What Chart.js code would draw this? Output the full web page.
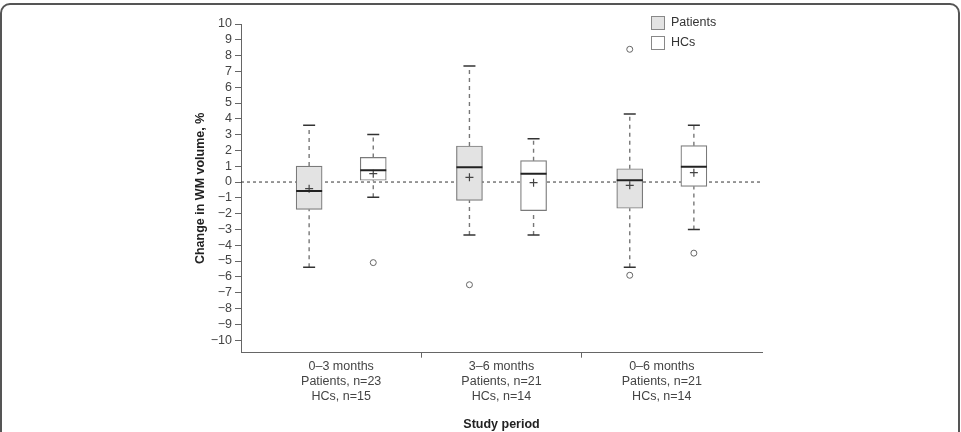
<!DOCTYPE html>
<html>
<head>
<meta charset="utf-8">
<script src="https://cdn.jsdelivr.net/npm/chart.js@4/dist/chart.umd.min.js"></script>
<style>
  html, body { margin: 0; padding: 0; background: #fff; }
  #wrap { position: relative; width: 961px; height: 432px; overflow: hidden; }
  #frame { position: absolute; left: 0; top: 3px; width: 956px; height: 460px;
           border: 2px solid #555; border-radius: 10px; pointer-events: none; }
</style>
</head>
<body>
<div id="wrap">
  <canvas id="myChart" width="961" height="432"></canvas>
  <div id="frame"></div>
</div>
<script>
// study periods (x axis groups)
const categories = [
  ['0–3 months', 'Patients, n=23', 'HCs, n=15'],
  ['3–6 months', 'Patients, n=21', 'HCs, n=14'],
  ['0–6 months', 'Patients, n=21', 'HCs, n=14']
];
const seriesNames = ['Patients', 'HCs'];

// patients: box plot values per period
const patientMin = [-5.4, -3.35, -5.4];
const patientQ1 = [-1.73, -1.16, -1.66];
const patientMedian = [-0.57, 0.93, 0.11];
const patientQ3 = [1.01, 2.28, 0.84];
const patientMax = [3.6, 7.35, 4.3];
const patientMean = [-0.42, 0.3, -0.21];
const patientOutliers = [[], [-6.5], [8.4, -5.9]];

// healthy controls
const hcMin = [-0.97, -3.35, -3.0];
const hcQ1 = [0.11, -1.81, -0.27];
const hcMedian = [0.74, 0.53, 0.97];
const hcQ3 = [1.56, 1.35, 2.3];
const hcMax = [3.0, 2.74, 3.6];
const hcMean = [0.53, -0.04, 0.59];
const hcOutliers = [[-5.1], [], [-4.5]];

const yTickValues = [-10, -9, -8, -7, -6, -5, -4, -3, -2, -1, 0, 1, 2, 3, 4, 5, 6, 7, 8, 9, 10];

window.onload = () => {
  const FONT = '"Liberation Sans", Arial, Helvetica, sans-serif';
  const patientPos = i => i + 0.3;
  const hcPos = i => i + 0.7;

  const boxData = (pos, q1, q3) => q1.map((v, i) => ({ x: pos(i), y: [v, q3[i]] }));
  const pointData = (pos, arr) => arr.map((v, i) => ({ x: pos(i), y: v }));
  const capData = (pos, lo, hi) => {
    const pts = [];
    lo.forEach((v, i) => { pts.push({ x: pos(i), y: v }); pts.push({ x: pos(i), y: hi[i] }); });
    return pts;
  };
  const whiskerData = (pos, min, q1, q3, max) => {
    const pts = [];
    min.forEach((v, i) => {
      pts.push({ x: pos(i), y: q3[i] }, { x: pos(i), y: max[i] }, { x: pos(i), y: null });
      pts.push({ x: pos(i), y: v }, { x: pos(i), y: q1[i] }, { x: pos(i), y: null });
    });
    return pts;
  };
  const outlierData = (pos, arr) => {
    const pts = [];
    arr.forEach((list, i) => list.forEach(v => pts.push({ x: pos(i), y: v })));
    return pts;
  };

  const pointSet = (data, style, radius, width, color, bg) => ({
    type: 'line', data, showLine: false, order: 1,
    pointStyle: style, pointRadius: radius, pointBorderWidth: width,
    pointBorderColor: color, pointBackgroundColor: bg || color, pointHoverRadius: radius
  });

  const boxSet = (label, data, bg) => ({
    type: 'bar', label, data, grouped: false, order: 3,
    backgroundColor: bg, borderColor: '#7a7a7a', borderWidth: 1.2,
    borderSkipped: false, barThickness: 26
  });

  const whiskerSet = data => ({
    type: 'line', data, order: 5, borderColor: '#777', borderWidth: 1.4,
    borderDash: [4, 4], pointRadius: 0, spanGaps: false
  });

  const legendPlugin = {
    id: 'boxLegend',
    afterDraw(chart) {
      const ctx = chart.ctx;
      const items = [chart.data.datasets[0], chart.data.datasets[1]];
      ctx.save();
      items.forEach((ds, i) => {
        const y = 16 + i * 20;
        ctx.fillStyle = ds.backgroundColor;
        ctx.fillRect(651, y, 13, 13);
        ctx.strokeStyle = '#888';
        ctx.lineWidth = 1;
        ctx.strokeRect(651.5, y + 0.5, 13, 13);
        ctx.fillStyle = '#333';
        ctx.font = '12.5px ' + FONT;
        ctx.textBaseline = 'middle';
        ctx.fillText(ds.label, 671, y + 7);
      });
      ctx.restore();
    }
  };

  const ctx = document.getElementById('myChart').getContext('2d');
  new Chart(ctx, {
    type: 'bar',
    data: {
      datasets: [
        boxSet(seriesNames[0], boxData(patientPos, patientQ1, patientQ3), '#e3e3e3'),
        boxSet(seriesNames[1], boxData(hcPos, hcQ1, hcQ3), '#ffffff'),
        {
          type: 'line', data: [{ x: -0.125, y: 0 }, { x: 3.125, y: 0 }], order: 10,
          borderColor: '#333', borderWidth: 1, borderDash: [3, 3], pointRadius: 0
        },
        whiskerSet(whiskerData(patientPos, patientMin, patientQ1, patientQ3, patientMax)),
        whiskerSet(whiskerData(hcPos, hcMin, hcQ1, hcQ3, hcMax)),
        pointSet(pointData(patientPos, patientMedian), 'line', 13, 2, '#222'),
        pointSet(pointData(hcPos, hcMedian), 'line', 13, 2, '#222'),
        pointSet(capData(patientPos, patientMin, patientMax), 'line', 6, 1.5, '#333'),
        pointSet(capData(hcPos, hcMin, hcMax), 'line', 6, 1.5, '#333'),
        pointSet(pointData(patientPos, patientMean), 'cross', 4, 1.2, '#444'),
        pointSet(pointData(hcPos, hcMean), 'cross', 4, 1.2, '#444'),
        pointSet(outlierData(patientPos, patientOutliers), 'circle', 3, 1, '#666', '#fff'),
        pointSet(outlierData(hcPos, hcOutliers), 'circle', 3, 1, '#666', '#fff')
      ]
    },
    options: {
      responsive: false,
      animation: false,
      layout: { padding: { left: 189, right: 199, top: 24, bottom: 0 } },
      plugins: { legend: { display: false }, tooltip: { enabled: false } },
      scales: {
        x: {
          type: 'linear', min: -0.125, max: 3.125, offset: false,
          afterFit: scale => { scale.height = 79.3; },
          afterBuildTicks: scale => {
            scale.ticks = [0.5, 1, 1.5, 2, 2.5].map(v => ({ value: v }));
          },
          border: { color: '#666', width: 1 },
          grid: {
            drawOnChartArea: false, offset: false, tickLength: 5,
            tickColor: c => (c.tick && Number.isInteger(c.tick.value)) ? '#666' : 'rgba(0,0,0,0)'
          },
          ticks: {
            autoSkip: false, maxRotation: 0, padding: 1, color: '#444',
            font: { family: FONT, size: 12.5, lineHeight: 1.2 },
            callback: value => Number.isInteger(value) ? '' : categories[Math.floor(value)]
          },
          title: {
            display: true, text: 'Study period', color: '#222',
            font: { family: FONT, size: 12.5, weight: 'bold', lineHeight: 1.2 },
            padding: { top: 0, bottom: 0 }
          }
        },
        y: {
          min: -10.8, max: 10,
          afterFit: scale => { scale.width = 52; },
          afterBuildTicks: scale => {
            scale.ticks = yTickValues.map(v => ({ value: v }));
          },
          border: { color: '#666', width: 1 },
          grid: { drawOnChartArea: false, tickLength: 6, tickColor: '#666' },
          ticks: {
            autoSkip: false, padding: 3, color: '#444',
            font: { family: FONT, size: 12.5 },
            callback: value => value < 0 ? '−' + Math.abs(value) : String(value)
          },
          title: {
            display: true, text: 'Change in WM volume, %', color: '#222',
            font: { family: FONT, size: 12.5, weight: 'bold', lineHeight: 1.2 },
            padding: { top: 4, bottom: 4 }
          }
        }
      }
    },
    plugins: [legendPlugin]
  });
};
</script>
</body>
</html>
